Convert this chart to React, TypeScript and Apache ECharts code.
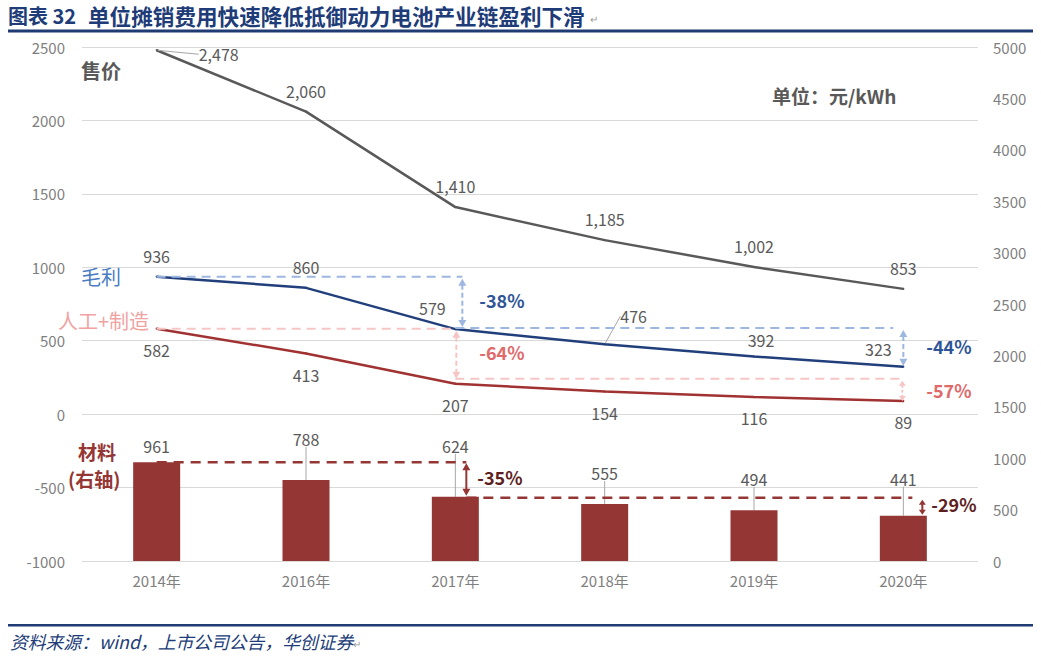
import React, { useEffect, useRef } from "react";
import * as echarts from "echarts";

const categories = ["2014年", "2016年", "2017年", "2018年", "2019年", "2020年"];
const priceValues = [2478, 2060, 1410, 1185, 1002, 853];
const grossValues = [936, 860, 579, 476, 392, 323];
const laborValues = [582, 413, 207, 154, 116, 89];
const materialValues = [961, 788, 624, 555, 494, 441];
const leftAxisRange = { min: -1000, max: 2500, interval: 500 };
const rightAxisRange = { min: 0, max: 5000, interval: 500 };

const seriesNames = { price: "售价", gross: "毛利", labor: "人工+制造", material: "材料" };
const changeTexts = { gross1: "-38%", gross2: "-44%", labor1: "-64%", labor2: "-57%", mat1: "-35%", mat2: "-29%" };

const FONT = '"Noto Sans CJK SC", "Noto Sans", sans-serif';

// label layout shifts (pixels), by data index
const priceShift: number[][] = [[62, 25], [0, 0], [0, 0], [0, 0], [0, 0], [0, 0]];
const grossShift: number[][] = [[0, 0], [0, 0], [-23, 0], [29, -7], [7, 4], [-25, 3]];
const materialShift: number[][] = [[0, 0], [0, -25], [0, -35], [0, -15], [0, -15], [0, -21]];
const priceLeader = [true, false, false, false, false, false];
const grossLeader = [false, false, false, true, false, false];
const materialLeader = [false, true, true, true, true, true];

const leaderStyle = { lineStyle: { color: "#A6A6A6", width: 1 } };

const withLeader = (vals: number[], flags: boolean[]) =>
  vals.map((v, i) => ({ value: v, labelLine: { show: flags[i], ...leaderStyle } }));

const shiftFn = (arr: number[][]) => (p: any) => {
  const s = arr[p.dataIndex] || [0, 0];
  return { dx: s[0], dy: s[1] };
};

export default function App() {
  const ref = useRef<HTMLDivElement>(null);
  useEffect(() => {
    const chart = echarts.init(ref.current!, null, { renderer: "svg" });
    const numLabel = {
      show: true,
      color: "#595959",
      fontSize: 16,
      fontFamily: FONT,
      formatter: (p: any) => Number(p.value).toLocaleString("en-US"),
    };
    const plain = (v: number) => String(v);
    const option: any = {
      animation: false,
      backgroundColor: "#ffffff",
      textStyle: { fontFamily: FONT },
      grid: { left: 82, right: 63, top: 47, bottom: 102, containLabel: false },
      xAxis: {
        type: "category",
        data: categories,
        axisLine: { show: false },
        axisTick: { show: false },
        axisLabel: { color: "#7f7f7f", fontSize: 15, margin: 12, fontFamily: FONT },
      },
      yAxis: [
        {
          type: "value",
          ...leftAxisRange,
          axisLine: { show: false },
          axisTick: { show: false },
          splitLine: { lineStyle: { color: "#D9D9D9", width: 1 } },
          axisLabel: { color: "#7f7f7f", fontSize: 15, margin: 17, fontFamily: FONT, formatter: plain },
        },
        {
          type: "value",
          position: "right",
          ...rightAxisRange,
          axisLine: { show: false },
          axisTick: { show: false },
          splitLine: { show: false },
          axisLabel: { color: "#7f7f7f", fontSize: 15, margin: 15, fontFamily: FONT, formatter: plain },
        },
      ],
      series: [
        {
          name: seriesNames.material,
          type: "bar",
          yAxisIndex: 1,
          barWidth: 47,
          itemStyle: { color: "#943634" },
          label: { ...numLabel, position: "top", distance: 8 },
          labelLayout: shiftFn(materialShift),
          data: withLeader(materialValues, materialLeader),
          z: 2,
        },
        {
          name: seriesNames.price,
          type: "line",
          yAxisIndex: 0,
          symbol: "circle",
          symbolSize: 2,
          itemStyle: { color: "#595959" },
          lineStyle: { color: "#595959", width: 2.5 },
          label: { ...numLabel, position: "top", distance: 12 },
          labelLayout: shiftFn(priceShift),
          data: withLeader(priceValues, priceLeader),
          z: 5,
        },
        {
          name: seriesNames.gross,
          type: "line",
          yAxisIndex: 0,
          symbol: "circle",
          symbolSize: 2,
          itemStyle: { color: "#213F7B" },
          lineStyle: { color: "#213F7B", width: 2.5 },
          label: { ...numLabel, position: "top", distance: 12 },
          labelLayout: shiftFn(grossShift),
          data: withLeader(grossValues, grossLeader),
          z: 5,
        },
        {
          name: seriesNames.labor,
          type: "line",
          yAxisIndex: 0,
          symbol: "circle",
          symbolSize: 2,
          itemStyle: { color: "#A03232" },
          lineStyle: { color: "#A03232", width: 2.5 },
          label: { ...numLabel, position: "bottom", distance: 12 },
          data: laborValues,
          z: 5,
        },
      ],
    };
    chart.setOption(option);

    const L = (i: number, v: number) =>
      chart.convertToPixel({ xAxisIndex: 0, yAxisIndex: 0 } as any, [i, v]) as number[];
    const R = (i: number, v: number) =>
      chart.convertToPixel({ xAxisIndex: 0, yAxisIndex: 1 } as any, [i, v]) as number[];

    const dashed = (x1: number, y1: number, x2: number, y2: number, color: string, w = 2, dash = [9, 6]) => ({
      type: "line",
      silent: true,
      z: 10,
      shape: { x1, y1, x2, y2 },
      style: { stroke: color, lineWidth: w, lineDash: dash },
    });
    const arrow = (x: number, yTop: number, yBot: number, color: string, dash: number[] | null, head = 7, hw = 4) => [
      {
        type: "line",
        silent: true,
        z: 10,
        shape: { x1: x, y1: yTop + head - 1, x2: x, y2: yBot - head + 1 },
        style: { stroke: color, lineWidth: 2, lineDash: dash || undefined },
      },
      {
        type: "polygon",
        silent: true,
        z: 10,
        shape: { points: [[x, yTop], [x - hw, yTop + head], [x + hw, yTop + head]] },
        style: { fill: color },
      },
      {
        type: "polygon",
        silent: true,
        z: 10,
        shape: { points: [[x, yBot], [x - hw, yBot - head], [x + hw, yBot - head]] },
        style: { fill: color },
      },
    ];
    const text = (
      x: number,
      y: number,
      t: string,
      color: string,
      size: number,
      weight: string = "bold",
      extra: any = {}
    ) => ({
      type: "text",
      silent: true,
      z: 11,
      x,
      y,
      style: {
        text: t,
        fill: color,
        fontSize: size,
        fontWeight: weight,
        fontFamily: FONT,
        textAlign: "left",
        textVerticalAlign: "middle",
        ...extra,
      },
    });

    const g0 = L(0, grossValues[0]);
    const g2 = L(2, grossValues[2]);
    const g5 = L(5, grossValues[5]);
    const l0 = L(0, laborValues[0]);
    const l2 = L(2, laborValues[2]);
    const l5 = L(5, laborValues[5]);
    const m0 = R(0, materialValues[0]);
    const m2 = R(2, materialValues[2]);
    const m5 = R(5, materialValues[5]);

    const blueLight = "#9DB7E0";
    const pinkLight = "#F6C6C6";
    const darkRed = "#943634";

    const elements: any[] = [
      // title
      { type: "rect", silent: true, shape: { x: 8, y: 29.5, width: 1025, height: 3 }, style: { fill: "#1F3B73" } },
      text(8, 15, "图表 32", "#203C78", 20),
      text(88, 15, "单位摊销费用快速降低抵御动力电池产业链盈利下滑", "#203C78", 21.6),
      text(590, 18, "↵", "#9a9a9a", 10, "normal"),
      // footer
      { type: "rect", silent: true, shape: { x: 8, y: 624, width: 1025, height: 2.5 }, style: { fill: "#1F3B73" } },
      text(10, 641, "资料来源：wind，上市公司公告，华创证券", "#203C78", 17.8, "normal", { fontStyle: "italic" }),
      text(353, 643, "↵", "#9a9a9a", 10, "normal"),
      // series names
      text(81, 70, seriesNames.price, "#595959", 20),
      text(81, 276, seriesNames.gross, "#4A7CC4", 20, "normal"),
      text(58, 320, seriesNames.labor, "#F0A3A3", 20, "normal"),
      text(78, 451, seriesNames.material, darkRed, 19),
      text(68, 478, "(右轴)", darkRed, 19),
      text(772, 95, "单位：元/kWh", "#595959", 19),
      // gross annotations
      dashed(g0[0], g0[1], g2[0] + 7, g0[1], blueLight),
      ...arrow(g2[0] + 7, g0[1] + 2, g2[1] - 2, blueLight, [5, 3]),
      dashed(g2[0], g2[1] - 1, g5[0] - 10, g2[1] - 1, blueLight),
      ...arrow(g5[0], g2[1] + 1, g5[1] - 1, blueLight, [5, 3]),
      text(g2[0] + 24, (g0[1] + g2[1]) / 2 - 3, changeTexts.gross1, "#2F5597", 18),
      text(g5[0] + 23, (g2[1] + g5[1]) / 2 - 2, changeTexts.gross2, "#2F5597", 18),
      // labor annotations
      dashed(l0[0], l0[1], l2[0], l0[1], pinkLight),
      ...arrow(l2[0] + 1, l0[1] + 2, l2[1] - 5, pinkLight, [5, 3]),
      dashed(l2[0], l2[1] - 5, l5[0] - 4, l2[1] - 5, pinkLight),
      ...arrow(l5[0] - 1, l2[1] - 3, l5[1], pinkLight, [3, 2], 5, 3.5),
      text(l2[0] + 24, (l0[1] + l2[1]) / 2 - 4, changeTexts.labor1, "#E06A6A", 18),
      text(l5[0] + 23, (l2[1] + l5[1]) / 2 - 2, changeTexts.labor2, "#E06A6A", 18),
      // material annotations
      dashed(m0[0], m0[1], m2[0] + 11, m0[1], darkRed, 2.5, [10, 7]),
      ...arrow(m2[0] + 11, m0[1] + 1, m2[1] - 1, darkRed, null, 7, 4),
      dashed(m2[0] + 11, m2[1] + 1, m5[0] + 9, m2[1] + 1, darkRed, 2.5, [10, 7]),
      ...arrow(m5[0] + 19, m2[1] + 3, m5[1] - 1, darkRed, null, 5, 3.5),
      text(m2[0] + 22, (m0[1] + m2[1]) / 2 - 3, changeTexts.mat1, "#5E1E1E", 18),
      text(m5[0] + 28, (m2[1] + m5[1]) / 2 - 2, changeTexts.mat2, "#5E1E1E", 18),
    ];
    chart.setOption({ graphic: { elements } });

    return () => chart.dispose();
  }, []);
  return (
    <div
      ref={ref}
      style={{ position: "absolute", left: 0, top: 0, width: 1041, height: 663, background: "#ffffff" }}
    />
  );
}
